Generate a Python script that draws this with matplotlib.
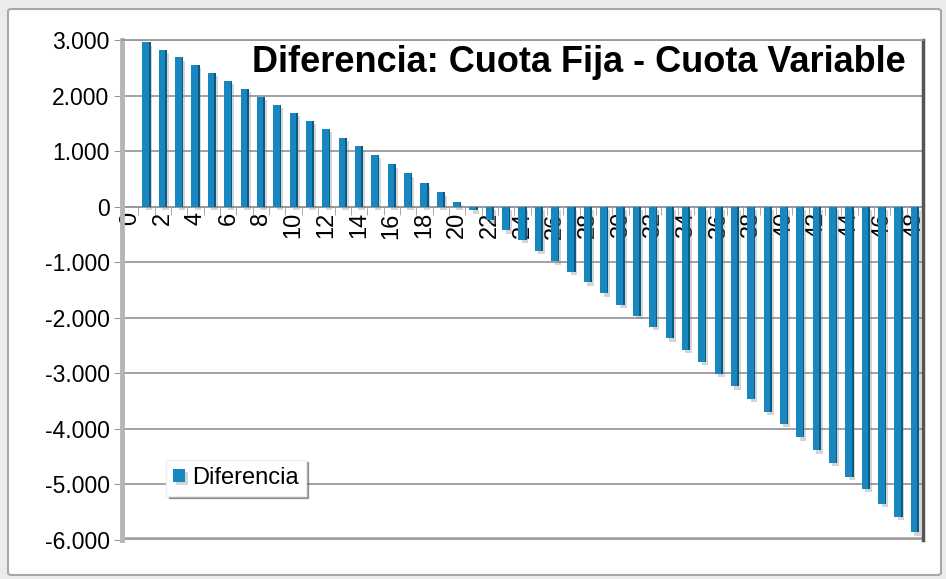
import matplotlib.pyplot as plt
import matplotlib.patheffects as pe
from matplotlib.patches import FancyBboxPatch
from matplotlib.ticker import FuncFormatter, MultipleLocator
import numpy as np

plt.rcParams['font.family'] = ['Liberation Sans', 'DejaVu Sans']

# data: month index and difference (fixed fee - variable fee)
meses = list(range(0, 49))
diferencia = [0, 2955, 2823, 2685, 2553, 2414, 2270, 2126, 1982, 1838,
              1694, 1544, 1405, 1243, 1088, 931, 764, 600, 430, 262,
              89, -64, -243, -421, -600, -791, -982, -1171, -1362, -1559,
              -1761, -1964, -2161, -2368, -2577, -2796, -3005, -3232, -3457, -3689,
              -3911, -4154, -4386, -4612, -4863, -5077, -5345, -5582, -5863]
titulo = 'Diferencia: Cuota Fija - Cuota Variable'
serie = 'Diferencia'

fig = plt.figure(figsize=(9.46, 5.79), dpi=100)
fig.patch.set_facecolor('#ececec')
# white chart area with grey frame (drawn below the axes)
marco = FancyBboxPatch((8 / 946, 4 / 579), 933 / 946, 566 / 579,
                       boxstyle='round,pad=0,rounding_size=0.004',
                       transform=fig.transFigure, facecolor='white',
                       edgecolor='#a8a8a8', linewidth=1.5, zorder=-5)
fig.patches.append(marco)

ax = fig.add_axes([122 / 946, 39 / 579, 801 / 946, 500 / 579])
ax.set_facecolor('white')

x = np.array(meses)
y = np.array(diferencia)
sombra = [pe.SimplePatchShadow(offset=(2.5, -2.5), shadow_rgbFace='#888888', alpha=0.35), pe.Normal()]
b1 = ax.bar(x - 0.05, y, width=0.4, color='#1887c0', linewidth=0, zorder=3)
b2 = ax.bar(x + 0.2, y, width=0.1, color='#0a5a84', linewidth=0, zorder=4)
for r in b1:
    r.set_path_effects(sombra)

ax.set_xlim(-0.5, 48.5)
ax.set_ylim(-6000, 3000)
ax.yaxis.set_major_locator(MultipleLocator(1000))
ax.yaxis.set_major_formatter(FuncFormatter(lambda v, p: '{:,.0f}'.format(v).replace(',', '.')))
ax.grid(axis='y', color='#9a9a9a', linewidth=1.3, zorder=1)
ax.set_axisbelow(True)

# horizontal axis crosses at zero
ax.spines['bottom'].set_position(('data', 0))
ax.spines['bottom'].set_color('#9a9a9a')
ax.spines['bottom'].set_linewidth(1.3)
ax.spines['bottom'].set_zorder(2)
ax.spines['left'].set_color('#b5b5b5')
ax.spines['left'].set_linewidth(3.5)
ax.spines['top'].set_color('#9a9a9a')
ax.spines['top'].set_linewidth(1.3)
ax.spines['right'].set_color('#555555')
ax.spines['right'].set_linewidth(2.5)
ax.axhline(-6000, color='#a0a0a0', linewidth=4, zorder=2)

ax.set_xticks(x[::2])
ax.set_xticklabels([str(m) for m in meses[::2]], rotation=90, fontsize=17)
ax.set_xticks(np.arange(-0.5, 49, 1), minor=True)
ax.tick_params(axis='x', which='major', length=0, pad=4)
ax.tick_params(axis='x', which='minor', length=6, color='#9a9a9a', direction='out')
ax.tick_params(axis='y', length=6, color='#9a9a9a', labelsize=16.5, pad=3)

ax.text(0.978, 0.99, titulo, transform=ax.transAxes, ha='right', va='top',
        fontsize=26, fontweight='bold', color='black', zorder=5)

leg = ax.legend([b1[1]], [serie], loc='lower left', bbox_to_anchor=(0.04, 0.065),
                fontsize=17, frameon=True, fancybox=False, shadow=True,
                handlelength=0.5, handleheight=0.5, handletextpad=0.3,
                borderpad=0.3, edgecolor='#eeeeee')
leg.get_frame().set_facecolor('white')

fig.savefig('out.png', dpi=100, facecolor=fig.get_facecolor())
